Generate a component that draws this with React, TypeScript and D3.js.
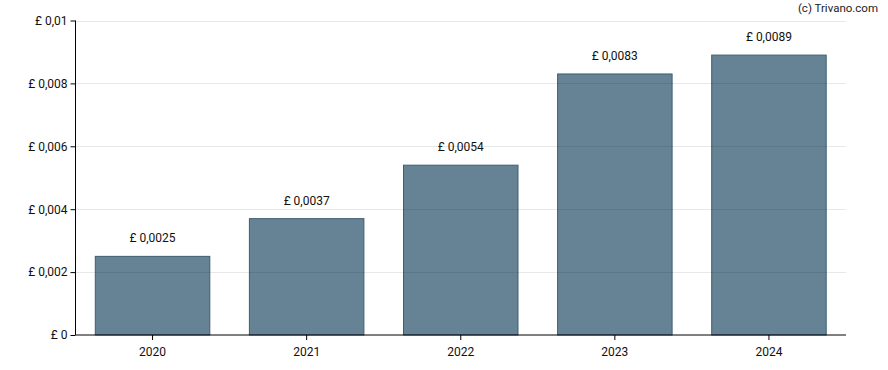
import React, { useEffect, useRef } from "react";
import * as d3 from "d3";

const years = ["2020", "2021", "2022", "2023", "2024"];
const dividends = [0.0025, 0.0037, 0.0054, 0.0083, 0.0089];
const yTicks = [0, 0.002, 0.004, 0.006, 0.008, 0.01];

const W = 888;
const H = 370;
const margin = { top: 20.5, right: 42, bottom: 35, left: 75.5 };

const fmt = (v: number) => (v === 0 ? "£ 0" : "£ " + String(v).replace(".", ","));

export default function App() {
  const svgRef = useRef<SVGSVGElement>(null);

  useEffect(() => {
    const svg = d3.select(svgRef.current);
    svg.selectAll("*").remove();

    const x = d3
      .scaleBand()
      .domain(years)
      .range([margin.left, W - margin.right])
      .paddingInner(0.257)
      .paddingOuter(0.1285);
    const y = d3
      .scaleLinear()
      .domain([0, 0.01])
      .range([H - margin.bottom, margin.top]);

    const font = "Roboto, 'Liberation Sans', sans-serif";

    // bars
    svg
      .append("g")
      .selectAll("rect")
      .data(dividends)
      .enter()
      .append("rect")
      .attr("x", (d, i) => x(years[i])!)
      .attr("y", (d) => y(d))
      .attr("width", x.bandwidth())
      .attr("height", (d) => y(0) - y(d))
      .style("fill", "#668396")
      .style("stroke", "#3f5d72")
      .style("stroke-width", 1);

    // grid lines (drawn over bars, faint)
    svg
      .append("g")
      .selectAll("line")
      .data(yTicks.slice(1))
      .enter()
      .append("line")
      .attr("x1", margin.left)
      .attr("x2", W - margin.right)
      .attr("y1", (d) => Math.round(y(d)) + 0.5)
      .attr("y2", (d) => Math.round(y(d)) + 0.5)
      .style("stroke", "rgba(0,0,0,0.09)")
      .style("stroke-width", 1);

    // value labels
    svg
      .append("g")
      .selectAll("text")
      .data(dividends)
      .enter()
      .append("text")
      .attr("x", (d, i) => x(years[i])! + x.bandwidth() / 2)
      .attr("y", (d) => y(d) - 14)
      .attr("text-anchor", "middle")
      .style("font-family", font)
      .style("font-size", "12px")
      .style("fill", "#111")
      .text((d) => fmt(d));

    // y axis
    const yAxis = d3
      .axisLeft(y)
      .tickValues(yTicks)
      .tickSize(5)
      .tickFormat((d) => fmt(+d));
    const gy = svg
      .append("g")
      .attr("transform", `translate(${margin.left},0)`)
      .call(yAxis);
    gy.select(".domain").attr("d", `M0,${margin.top}V${H - margin.bottom}`);
    gy.selectAll("text")
      .style("font-family", font)
      .style("font-size", "12px")
      .style("fill", "#111");

    // x axis
    const xAxis = d3.axisBottom(x).tickSize(5);
    const gx = svg
      .append("g")
      .attr("transform", `translate(0,${H - margin.bottom})`)
      .call(xAxis);
    gx.select(".domain").attr("d", `M${margin.left},0H${W - margin.right}`);
    gx.selectAll("text")
      .attr("dy", "1.1em")
      .style("font-family", font)
      .style("font-size", "12px")
      .style("fill", "#111");

    svg
      .append("text")
      .attr("x", W - 10)
      .attr("y", 12)
      .attr("text-anchor", "end")
      .style("font-family", font)
      .style("font-size", "11.5px")
      .style("fill", "#222")
      .text("(c) Trivano.com");
  }, []);

  return (
    <svg
      ref={svgRef}
      width={W}
      height={H}
      style={{ position: "absolute", left: 0, top: 0, background: "#fff" }}
    />
  );
}
